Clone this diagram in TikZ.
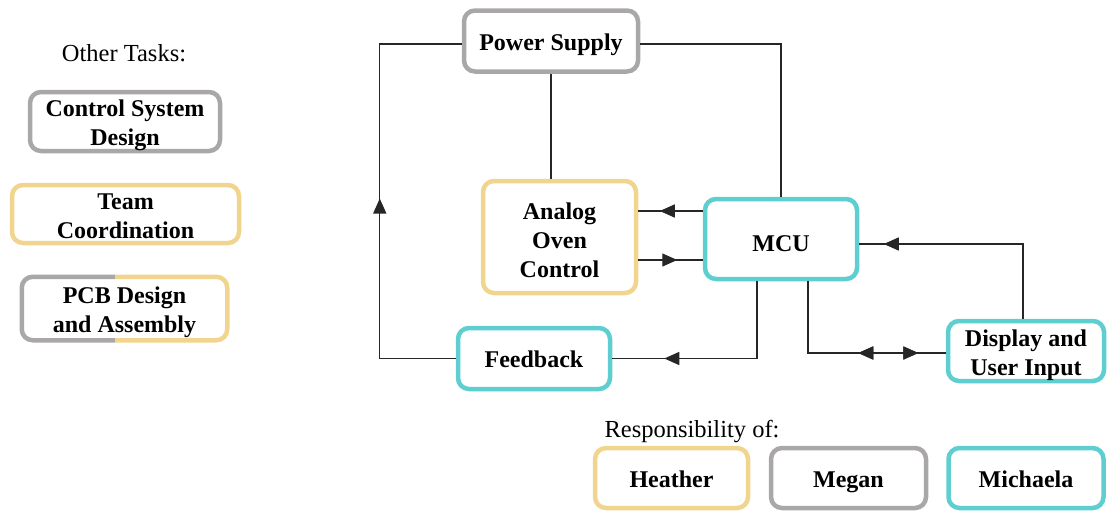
\documentclass[tikz,border=0pt]{standalone}
\usepackage{fontspec}
\setmainfont{Liberation Serif}[
  UprightFont={Liberation Serif},
  BoldFont={Liberation Serif Bold},
  ItalicFont={Liberation Serif Italic},
  BoldItalicFont={Liberation Serif Bold Italic}]
\usetikzlibrary{arrows.meta,decorations.markings}

\definecolor{heathercol}{RGB}{241,213,142}
\definecolor{megancol}{RGB}{170,167,167}
\definecolor{michaelacol}{RGB}{94,206,208}

\tikzset{
  block/.style={rounded corners=11pt, line width=4.5pt, fill=white,
    align=center, inner sep=0pt, font=\fontsize{24}{29}\selectfont\bfseries},
  heatherbox/.style={block, draw=heathercol},
  meganbox/.style={block, draw=megancol},
  michaelabox/.style={block, draw=michaelacol},
  % fixed text boxes so every label sits on the same baseline grid
  oneline/.style={text height=18pt, text depth=0pt},
  twolines/.style={text height=48pt, text depth=0pt},
  threelines/.style={text height=80pt, text depth=0pt},
  wire/.style={line width=1.4pt, draw=black!85},
  arrowat/.style={postaction={decorate}, decoration={markings,
    mark=at position #1 with {\arrow{Triangle[length=15pt,width=13pt]}}}},
  backarrowat/.style={postaction={decorate}, decoration={markings,
    mark=at position #1 with {\arrowreversed{Triangle[length=15pt,width=13pt]}}}},
  plain/.style={font=\fontsize{24.5}{29}\selectfont, inner sep=0pt}
}

\begin{document}
\begin{tikzpicture}[x=1pt,y=-1pt]
\useasboundingbox (0,0) rectangle (1107,514);

% other tasks
\node[plain] (othertitle) at (124,53) {Other Tasks:};
\node[meganbox, twolines, minimum width=190pt, minimum height=59pt] (csd) at (125,121.5) {Control System\\Design};
\node[heatherbox, twolines, minimum width=227pt, minimum height=58pt] (tc) at (125.5,214) {Team\\Coordination};
% shared task: border half grey, half yellow
\node[block, draw=none, minimum width=201pt, minimum height=59pt] (pcb) at (124.5,308.5) {};
\begin{scope}
  \clip (0,250) rectangle (115,360);
  \draw[line width=4.5pt, megancol, rounded corners=11pt] (pcb.south west) rectangle (pcb.north east);
\end{scope}
\begin{scope}
  \clip (115,250) rectangle (260,360);
  \draw[line width=4.5pt, heathercol, rounded corners=11pt] (pcb.south west) rectangle (pcb.north east);
\end{scope}
\node[block, twolines, draw=none, fill=none] (pcbtext) at (pcb) {PCB Design\\and Assembly};

% system blocks
\node[meganbox, oneline, minimum width=174pt, minimum height=61pt] (ps) at (551,41) {Power Supply};
\node[heatherbox, threelines, minimum width=153pt, minimum height=112pt] (aoc) at (559.5,237) {Analog\\Oven\\Control};
\node[michaelabox, oneline, text height=24pt, minimum width=152pt, minimum height=80pt] (mcu) at (781,239) {MCU};
\node[michaelabox, oneline, minimum width=152pt, minimum height=61pt] (fb) at (534,358.5) {Feedback};
\node[michaelabox, twolines, minimum width=156pt, minimum height=60pt] (dui) at (1026,351) {Display and\\User Input};

% legend
\node[plain] (resp) at (692,432) {Responsibility of:};
\node[heatherbox, oneline, minimum width=153pt, minimum height=60pt] (heather) at (671.5,478) {Heather};
\node[meganbox, oneline, minimum width=155pt, minimum height=60pt] (megan) at (848.5,478) {Megan};
\node[michaelabox, oneline, minimum width=155pt, minimum height=60pt] (michaela) at (1026,478) {Michaela};

% connectors
\draw[wire, arrowat=236pt] (fb.west) -- ++(-76,0) |- ([yshift=-3pt]ps.west);
\draw[wire] ([yshift=-3pt]ps.east) -| (mcu.north);
\draw[wire] (ps.south) -- (ps.south |- aoc.north);
\draw[wire, arrowat=43pt] ([yshift=28pt]mcu.west) -- ([yshift=28pt]mcu.west -| aoc.east);
\draw[wire, arrowat=39pt] ([yshift=-23pt]aoc.east) coordinate (aocout) -- (aocout -| mcu.west);
\draw[wire, arrowat=170pt] ([xshift=-24pt]mcu.south) |- (fb.east);
\draw[wire, backarrowat=122pt, arrowat=182pt] ([xshift=27pt]mcu.south) |- ([yshift=-2pt]dui.west);
\draw[wire, arrowat=214pt] ([xshift=-3pt]dui.north) |- ([yshift=-5pt]mcu.east);
\end{tikzpicture}
\end{document}
